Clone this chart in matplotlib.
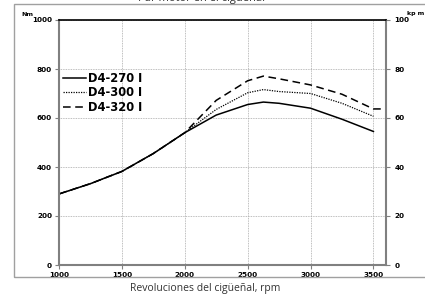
import matplotlib
matplotlib.use("Agg")
import matplotlib.pyplot as plt
from matplotlib.patches import Rectangle

rpm = [1000, 1250, 1500, 1750, 2000, 2250, 2500, 2625, 2750, 3000, 3250, 3500]
d4_270 = [290, 332, 382, 455, 540, 612, 655, 665, 660, 640, 595, 545]
d4_300 = [290, 332, 382, 455, 540, 635, 703, 716, 708, 700, 660, 607]
rpm_320 = [1000, 1250, 1500, 1750, 2000, 2250, 2500, 2625, 2750, 3000, 3250, 3500, 3580]
d4_320 = [290, 332, 382, 455, 540, 672, 752, 771, 760, 735, 697, 637, 637]

x_ticks = [1000, 1500, 2000, 2500, 3000, 3500]
y_ticks = [0, 200, 400, 600, 800, 1000]
y2_ticks = [0, 20, 40, 60, 80, 100]

W, H = 425, 299
fig = plt.figure(figsize=(W / 100, H / 100), dpi=100)
fig.patch.set_facecolor("white")

# outer gray border of the embedded chart
fig.patches.append(Rectangle((14 / W, 1 - 277 / H), (430 - 14) / W, (277 - 4) / H,
                             transform=fig.transFigure, fill=False,
                             edgecolor="#a0a0a0", linewidth=1.0))

ax = fig.add_axes([59 / W, 1 - 265 / H, (386 - 59) / W, (265 - 20) / H])
ax.plot(rpm, d4_270, color="black", linewidth=1.1, linestyle="-", label="D4-270 I")
ax.plot(rpm, d4_300, color="black", linewidth=0.9, linestyle=(0, (1, 1)), label="D4-300 I")
ax.plot(rpm_320, d4_320, color="black", linewidth=1.1, linestyle=(0, (5, 3)), label="D4-320 I")

ax.set_xlim(1000, 3600)
ax.set_ylim(0, 1000)
ax.set_xticks(x_ticks)
ax.set_yticks(y_ticks)
ax.grid(True, color="#a8a8a8", linestyle=(0, (1, 1)), linewidth=0.6)
ax.tick_params(axis="both", labelsize=5.2, length=3, width=0.8, color="#808080", pad=2)
for lab in ax.get_xticklabels() + ax.get_yticklabels():
    lab.set_fontweight("bold")
for s in ["left", "bottom", "right"]:
    ax.spines[s].set_color("#808080")
    ax.spines[s].set_linewidth(1.5)
ax.spines["top"].set_color("black")
ax.spines["top"].set_linewidth(1.2)

ax2 = ax.twinx()
ax2.set_ylim(0, 100)
ax2.set_yticks(y2_ticks)
ax2.tick_params(axis="y", labelsize=5.2, length=3, width=0.8, color="#808080", pad=3)
for lab in ax2.get_yticklabels():
    lab.set_fontweight("bold")
for s in ax2.spines.values():
    s.set_visible(False)

leg = ax.legend(loc="upper left", bbox_to_anchor=(-0.012, 0.822), frameon=False,
                prop={"weight": "bold", "size": 8.3}, handlelength=2.0,
                handletextpad=0.15, labelspacing=0.15, borderpad=0.2)

fig.text(27 / W, 1 - 15 / H, "Nm", fontsize=4.5, fontweight="bold", ha="center", va="center")
fig.text(416 / W, 1 - 14 / H, "kp m", fontsize=4.5, fontweight="bold", ha="center", va="center")
fig.text(201 / W, 1 + 2 / H, "Par motor en el cigüeñal", fontsize=8, color="#333333",
         ha="center", va="center", family="Open Sans")
fig.text(205 / W, 1 - 289 / H, "Revoluciones del cigüeñal, rpm", fontsize=7.5, color="#333333",
         ha="center", va="center", family="Open Sans")

fig.savefig("out.png", dpi=100)
